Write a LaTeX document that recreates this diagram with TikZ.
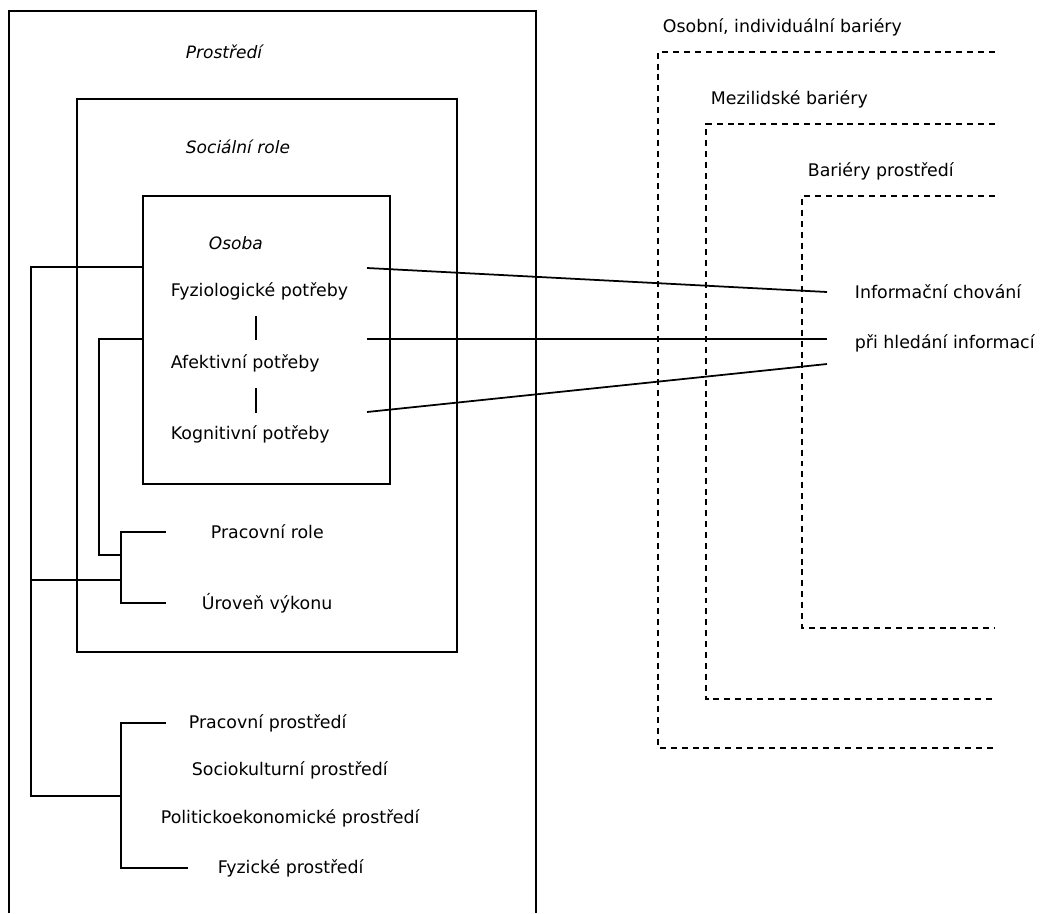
\documentclass[tikz,border=0pt]{standalone}
\usepackage{fontspec}
\setmainfont{DejaVu Sans}
\usepackage{tikz}

\begin{document}
\begin{tikzpicture}[x=0.02cm,y=-0.02cm,line width=1pt,
    txt/.style={inner sep=0pt,anchor=west,font=\fontsize{9.9}{12}\selectfont},
    ittxt/.style={txt,font=\fontsize{9.7}{12}\selectfont\itshape},
    bariera/.style={line width=0.8pt,dash pattern=on 3.4pt off 2.8pt}]
    \useasboundingbox (0,0) rectangle (1051,913);
    % prostredi (dole otevrene)
    \draw (9,913) -- (9,11) -- (536,11) -- (536,913);
    \node[ittxt] (prostredi) at (185,52) {Prostředí};
    % socialni role
    \draw (77,99) rectangle (457,652);
    \node[ittxt] (socrole) at (185,147) {Sociální role};
    % osoba
    \draw (143,196) rectangle (390,484);
    \node[ittxt] (osoba) at (208,243) {Osoba};
    \node[txt] (fyz) at (170,291) {Fyziologické potřeby};
    \node[txt] (afe) at (170,363) {Afektivní potřeby};
    \node[txt] (kog) at (170,434) {Kognitivní potřeby};
    \draw (256,316) -- (256,340);
    \draw (256,388) -- (256,413);
    % role a prostredi
    \node[txt] (pracrole) at (210,532) {Pracovní role};
    \node[txt] (uroven) at (201,603) {Úroveň výkonu};
    \node[txt] (pracpr) at (188,723) {Pracovní prostředí};
    \node[txt] (socio) at (191,770) {Sociokulturní prostředí};
    \node[txt] (polit) at (160,818) {Politickoekonomické prostředí};
    \node[txt] (fyzpr) at (217,868) {Fyzické prostředí};
    % spojnice vlevo
    \coordinate (osL1) at (143,267);
    \coordinate (osL2) at (143,339);
    \coordinate (k1) at (31,267);
    \coordinate (k2) at (99,339);
    \coordinate (j1) at (121,580);
    \coordinate (j1a) at (121,555);
    \coordinate (j2) at (121,796);
    \draw (osL1) -- (k1) |- (j2);
    \draw (k1 |- j1) -- (j1);
    \draw (osL2) -- (k2) |- (j1a);
    \draw ([xshift=-0.88cm]pracrole.west) -| (j1) |- ([xshift=-0.7cm]uroven.west);
    \draw ([xshift=-0.44cm]pracpr.west) -| (j2) |- ([xshift=-0.58cm]fyzpr.west);
    % bariery
    \draw[bariera] (995,52) -- (658,52) -- (658,748) -- (995,748);
    \node[txt] (bar1) at (662,27) {Osobní, individuální bariéry};
    \draw[bariera] (995,124) -- (706,124) -- (706,699) -- (995,699);
    \node[txt] (bar2) at (710,99) {Mezilidské bariéry};
    \draw[bariera] (995,196) -- (802,196) -- (802,628) -- (995,628);
    \node[txt] (bar3) at (807,171) {Bariéry prostředí};
    % informacni chovani
    \node[txt] (infch) at (854,292) {Informační chování};
    \node[txt] (hled) at (854,343) {při hledání informací};
    \coordinate (p1) at (367,268);
    \coordinate (p2) at (367,339);
    \coordinate (p3) at (367,412);
    \coordinate (e1) at (827,292);
    \coordinate (e2) at (827,339);
    \coordinate (e3) at (827,364);
    \draw (p1) -- (e1);
    \draw (p2) -- (e2);
    \draw (p3) -- (e3);
\end{tikzpicture}
\end{document}
